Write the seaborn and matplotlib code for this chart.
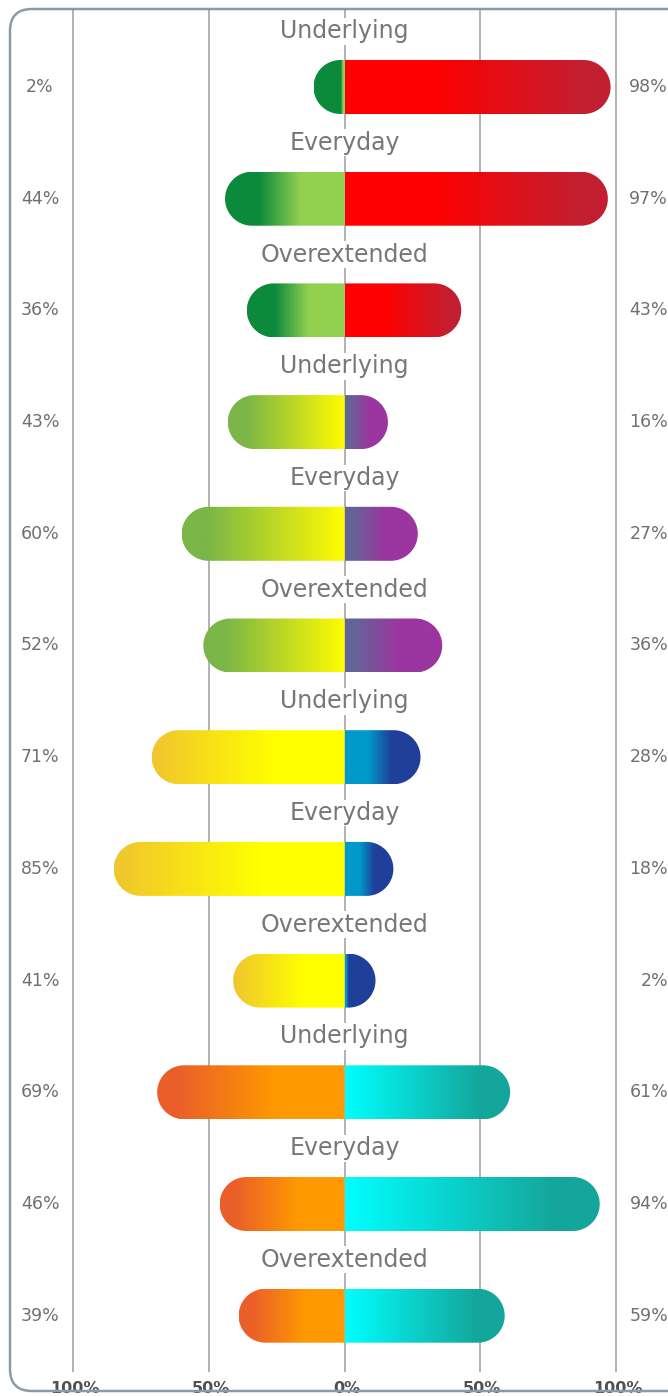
import numpy as np
import matplotlib
matplotlib.use("Agg")
import matplotlib.pyplot as plt
import seaborn as sns
from matplotlib.colors import LinearSegmentedColormap
from matplotlib.patches import PathPatch, FancyBboxPatch
from matplotlib.path import Path
from matplotlib.transforms import IdentityTransform

sns.set_theme(style="white")
plt.rcParams['font.family'] = ['DejaVu Sans']

# ---- data ----
categories = ["Underlying", "Everyday", "Overextended",
              "Underlying", "Everyday", "Overextended",
              "Underlying", "Everyday", "Overextended",
              "Underlying", "Everyday", "Overextended"]
left_values = [2, 44, 36, 43, 60, 52, 71, 85, 41, 69, 46, 39]
right_values = [98, 97, 43, 16, 27, 36, 28, 18, 2, 61, 94, 59]
axis_ticks = [-100, -50, 0, 50, 100]
axis_labels = ["100%", "50%", "0%", "50%", "100%"]

# gradient stops per group, t=0 at centre, t=1 at outer end
left_grads = [
    [(0.0, "#92d050"), (0.37, "#92d050"), (0.72, "#0b8a3c"), (1.0, "#0b8a3c")],
    [(0.0, "#ffff00"), (0.12, "#eef20a"), (0.85, "#7ab648"), (1.0, "#7ab648")],
    [(0.0, "#ffff00"), (0.37, "#ffff00"), (1.0, "#f0c52e")],
    [(0.0, "#ff9900"), (0.37, "#ff9900"), (0.9, "#ea5e2a"), (1.0, "#ea5e2a")],
]
right_grads = [
    [(0.0, "#ff0000"), (0.33, "#ff0000"), (0.9, "#c21f30"), (1.0, "#c21f30")],
    [(0.0, "#626496"), (0.1, "#646497"), (0.55, "#9b35a0"), (1.0, "#9b35a0")],
    [(0.0, "#0099cc"), (0.3, "#0099cc"), (0.6, "#1f3f9a"), (1.0, "#1f3f9a")],
    [(0.0, "#00ffff"), (0.82, "#14a69b"), (1.0, "#14a69b")],
]

W, H = 668, 1396
fig = plt.figure(figsize=(W / 100, H / 100), dpi=100)
ax = fig.add_axes([0, 0, 1, 1])
ax.set_axis_off()

px_x = 543 / 200.0      # pixels per percent
px_y = 111.7            # pixels per row
x_left = -100 - 73 / px_x
x_right = 100 + (W - 616) / px_x
y_top = -87 / px_y
y_bot = (H - 87) / px_y

half_h = 27 / px_y      # half bar height
rx = 27 / px_x          # cap radius in x units
min_len = 31 / px_x

grid_col = "#ababab"
ax.vlines(axis_ticks, -0.7, 11.5, color=grid_col, lw=1.3, zorder=1)


def bar_path(yc, side, length):
    theta = np.linspace(-np.pi / 2, np.pi / 2, 60)
    cx = side * (length - rx)
    xs = cx + side * rx * np.cos(theta)
    ys = yc + half_h * np.sin(theta)
    verts = [(0, yc - half_h)] + list(zip(xs, ys)) + [(0, yc + half_h), (0, yc - half_h)]
    codes = [Path.MOVETO] + [Path.LINETO] * (len(verts) - 2) + [Path.CLOSEPOLY]
    return Path(verts, codes)


def draw_bar(yc, side, value, stops):
    length = max(value, min_len)
    cmap = LinearSegmentedColormap.from_list("g", stops)
    xs = np.linspace(0, side * length, 400)
    t = np.clip(np.abs(xs) / value, 0, 1)
    img = cmap(t)[np.newaxis, :, :]
    patch = PathPatch(bar_path(yc, side, length), facecolor="none", edgecolor="none")
    ax.add_patch(patch)
    im = ax.imshow(img, extent=[0, side * length, yc + half_h, yc - half_h],
                   aspect="auto", interpolation="bilinear", zorder=3)
    im.set_clip_path(patch)


for i, cat in enumerate(categories):
    g = i // 3
    draw_bar(i, -1, left_values[i], left_grads[g])
    draw_bar(i, 1, right_values[i], right_grads[g])
    ax.text(0, i - 0.5, cat, ha="center", va="center", fontsize=17,
            color="#777777", zorder=4,
            bbox=dict(facecolor="white", edgecolor="none", pad=1.0))
    ax.text(x_left + 40 / px_x, i, f"{left_values[i]}%", ha="center", va="center",
            fontsize=12.5, color="#707070", zorder=4)
    ax.text(x_right, i, f"{right_values[i]}%", ha="right", va="center",
            fontsize=12.5, color="#707070", zorder=4)

for xt, lab in zip(axis_ticks, axis_labels):
    ax.text(xt + 2 / px_x, 11.65, lab, ha="center", va="center", fontsize=11.5,
            color="#505050", fontweight="bold", zorder=4)

ax.set_xlim(x_left, x_right)
ax.set_ylim(y_bot, y_top)

frame = FancyBboxPatch((10, 5), W + 30, H - 14, boxstyle="round,pad=0,rounding_size=22",
                       transform=IdentityTransform(), facecolor="none",
                       edgecolor="#8a9ba8", lw=1.8, zorder=5)
fig.patches.append(frame)

fig.savefig("out.png", dpi=100)
